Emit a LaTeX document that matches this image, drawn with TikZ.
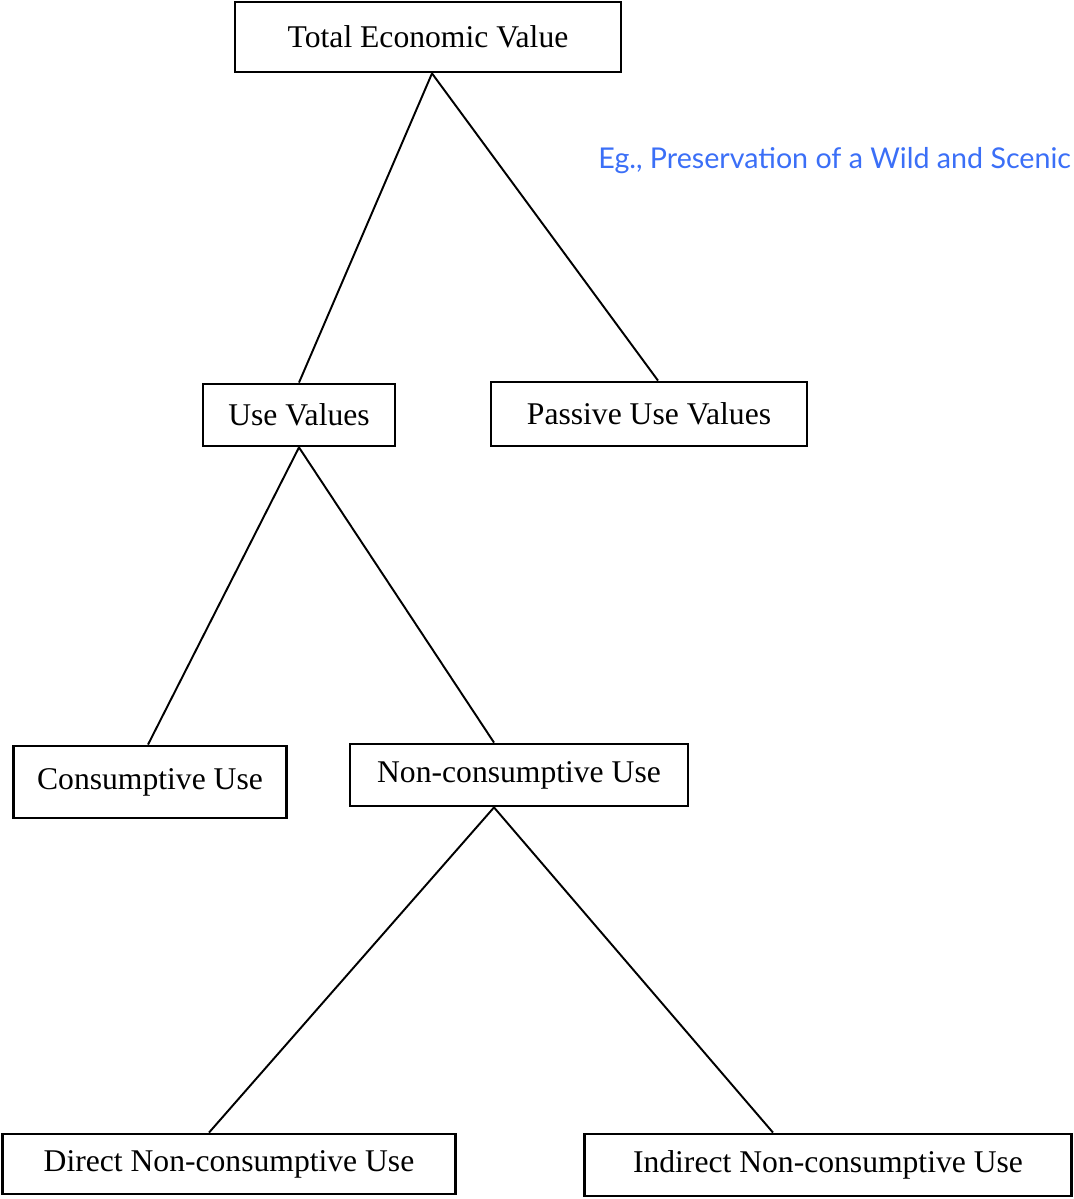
\documentclass[tikz,border=0pt]{standalone}
\usepackage{fontspec}
\setmainfont{Liberation Serif}
\newfontfamily\notefont{Lato}
\definecolor{noteblue}{RGB}{59,111,247}

\begin{document}
\begin{tikzpicture}[x=0.02cm, y=-0.02cm]
    \tikzstyle{every node} = [align=center, font=\fontsize{18}{20}\selectfont]
    \tikzstyle{valbox} = [draw, line width=1.6pt, inner sep=0pt]
    \tikzstyle{link} = [line width=1.1pt]
    \useasboundingbox (0,0) rectangle (1074,1199);
    \clip (0,0) rectangle (1074,1199);
    % top level
    \node [valbox, minimum width=7.72cm, minimum height=1.4cm] (tev) at (428,37) {Total Economic Value};
    \node [anchor=base west, inner sep=0pt, text=noteblue, font=\notefont\fontsize{16.3}{20}\selectfont] (note) at (598,169) {Eg., Preservation of a Wild and Scenic};
    % second level
    \node [valbox, minimum width=3.84cm, minimum height=1.24cm] (uv) at (299,415) {Use Values};
    \node [valbox, minimum width=6.32cm, minimum height=1.28cm] (pu) at (649,414) {Passive Use Values};
    % third level
    \node [valbox, minimum width=5.46cm, minimum height=1.44cm] (cu) at (150,782) {Consumptive Use};
    \node [valbox, minimum width=6.76cm, minimum height=1.24cm] (nc) at (519,775) {Non-consumptive Use};
    % bottom level
    \node [valbox, minimum width=9.06cm, minimum height=1.2cm] (dn) at (229,1164) {Direct Non-consumptive Use};
    \node [valbox, minimum width=9.74cm, minimum height=1.24cm] (in) at (828,1165) {Indirect Non-consumptive Use};

    \draw [link] ([xshift=0.08cm]tev.south) -- (uv.north);
    \draw [link] ([xshift=0.08cm]tev.south) -- ([xshift=0.18cm]pu.north);
    \draw [link] (uv.south) -- ([xshift=-0.04cm]cu.north);
    \draw [link] (uv.south) -- ([xshift=-0.5cm]nc.north);
    \draw [link] ([xshift=-0.5cm]nc.south) -- ([xshift=-0.4cm]dn.north);
    \draw [link] ([xshift=-0.5cm]nc.south) -- ([xshift=-1.1cm]in.north);
\end{tikzpicture}
\end{document}
